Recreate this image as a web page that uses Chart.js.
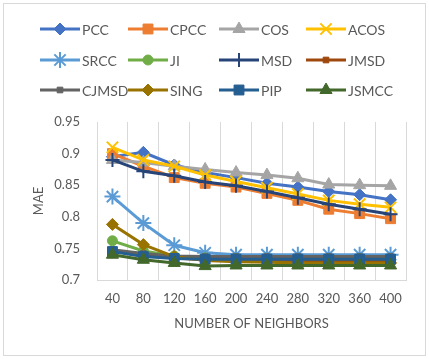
<!DOCTYPE html>
<html>
<head>
<meta charset="utf-8">
<script src="https://cdn.jsdelivr.net/npm/chart.js@4.4.0/dist/chart.umd.min.js"></script>
<style>
  html, body { margin: 0; padding: 0; background: #fff; }
  #wrap { position: relative; width: 429px; height: 359px; }
  #frame { position: absolute; left: 3px; top: 3px; width: 421px; height: 351px; border: 1px solid #d9d9d9; }
  canvas { position: absolute; left: 0; top: 0; }
</style>
</head>
<body>
<div id="wrap">
  <div id="frame"></div>
  <canvas id="c" width="429" height="359"></canvas>
</div>
<script>
const categories = ['40','80','120','160','200','240','280','320','360','400'];
const seriesNames = ['PCC','CPCC','COS','ACOS','SRCC','JI','MSD','JMSD','CJMSD','SING','PIP','JSMCC'];

const PCC   = [0.895, 0.902, 0.882, 0.870, 0.862, 0.853, 0.847, 0.840, 0.835, 0.827];
const CPCC  = [0.900, 0.880, 0.862, 0.853, 0.847, 0.837, 0.826, 0.812, 0.805, 0.797];
const COS   = [0.890, 0.886, 0.880, 0.875, 0.870, 0.866, 0.861, 0.851, 0.850, 0.849];
const ACOS  = [0.910, 0.890, 0.880, 0.866, 0.856, 0.846, 0.836, 0.826, 0.820, 0.815];
const SRCC  = [0.832, 0.790, 0.755, 0.743, 0.740, 0.740, 0.740, 0.740, 0.740, 0.740];
const JI    = [0.762, 0.746, 0.738, 0.735, 0.734, 0.734, 0.734, 0.734, 0.734, 0.734];
const MSD   = [0.890, 0.872, 0.865, 0.855, 0.849, 0.840, 0.830, 0.820, 0.812, 0.804];
const JMSD  = [0.745, 0.740, 0.735, 0.732, 0.731, 0.730, 0.730, 0.730, 0.730, 0.730];
const CJMSD = [0.748, 0.742, 0.738, 0.737, 0.737, 0.737, 0.737, 0.737, 0.737, 0.737];
const SING  = [0.788, 0.756, 0.737, 0.731, 0.729, 0.728, 0.727, 0.727, 0.727, 0.727];
const PIP   = [0.745, 0.737, 0.734, 0.733, 0.733, 0.733, 0.733, 0.733, 0.733, 0.733];
const JSMCC = [0.740, 0.732, 0.727, 0.722, 0.723, 0.723, 0.723, 0.723, 0.723, 0.723];

const yTicks = [0.7, 0.75, 0.8, 0.85, 0.9, 0.95];

const values = [PCC, CPCC, COS, ACOS, SRCC, JI, MSD, JMSD, CJMSD, SING, PIP, JSMCC];
const colors = ['#4472C4','#ED7D31','#A5A5A5','#FFC000','#5B9BD5','#70AD47','#264478','#9E480E','#636363','#997300','#255E91','#43682B'];
const styles = ['rectRot','rect','triangle','crossRot','star','circle','cross','rect','rect','rectRot','rect','triangle'];
const radii  = [6, 7, 7, 8, 8, 5, 7, 4, 4, 6, 7, 7];

const FONT = 'Lato, "Open Sans", sans-serif';
const TXT = '#595959';

const datasets = seriesNames.map((n, i) => ({
  label: n,
  data: values[i],
  borderColor: colors[i],
  backgroundColor: colors[i],
  borderWidth: 3,
  pointStyle: styles[i],
  pointRadius: radii[i],
  pointBorderWidth: (styles[i] === 'crossRot' || styles[i] === 'star' || styles[i] === 'cross') ? 2 : 1,
  pointBorderColor: colors[i],
  pointBackgroundColor: colors[i],
  tension: 0,
  order: seriesNames.length - i
}));

const legendPlugin = {
  id: 'gridLegend',
  afterDraw(chart) {
    const ctx = chart.ctx;
    const colX = [40, 128, 219, 306];
    const rowY = [29, 60, 90];
    ctx.save();
    chart.data.datasets.forEach((ds, i) => {
      const x0 = colX[i % 4];
      const y = rowY[Math.floor(i / 4)];
      ctx.strokeStyle = ds.borderColor;
      ctx.lineWidth = 3;
      ctx.beginPath();
      ctx.moveTo(x0, y);
      ctx.lineTo(x0 + 40, y);
      ctx.stroke();
      ctx.fillStyle = ds.backgroundColor;
      ctx.strokeStyle = ds.borderColor;
      ctx.lineWidth = ds.pointBorderWidth;
      Chart.helpers.drawPoint(ctx, {pointStyle: ds.pointStyle, radius: ds.pointRadius, borderWidth: ds.pointBorderWidth, rotation: 0}, x0 + 20, y);
      ctx.fillStyle = TXT;
      ctx.font = '14px ' + FONT;
      ctx.textBaseline = 'middle';
      ctx.textAlign = 'left';
      ctx.fillText(ds.label, x0 + 42, y + 1);
    });
    ctx.restore();
  }
};

new Chart(document.getElementById('c'), {
  type: 'line',
  data: { labels: categories, datasets },
  options: {
    responsive: false,
    animation: false,
    layout: { padding: { top: 122, right: 23, bottom: 24, left: 0 } },
    plugins: { legend: { display: false }, tooltip: { enabled: false } },
    scales: {
      x: {
        type: 'category',
        offset: true,
        grid: { offset: true, color: '#d9d9d9', lineWidth: 1, drawTicks: false },
        border: { display: true, color: '#d9d9d9' },
        ticks: { color: TXT, font: { family: FONT, size: 13 }, padding: 11, maxRotation: 0, autoSkip: false },
        title: { display: true, text: 'NUMBER OF NEIGHBORS', color: TXT, font: { family: FONT, size: 13 }, padding: { top: 4, bottom: 3 } },
        afterFit(s) { s.height = 55; }
      },
      y: {
        min: 0.7, max: 0.95,
        afterBuildTicks(s) { s.ticks = yTicks.map(v => ({ value: v })); },
        grid: { display: false, drawTicks: false },
        border: { display: false },
        ticks: { color: TXT, font: { family: FONT, size: 13 }, padding: 17,
                 callback: v => String(Math.round(v * 100) / 100) },
        title: { display: true, text: 'MAE', color: TXT, font: { family: FONT, size: 13 }, padding: { top: 31, bottom: 4 } },
        afterFit(s) { s.width = 97; }
      }
    }
  },
  plugins: [legendPlugin]
});
</script>
</body>
</html>
